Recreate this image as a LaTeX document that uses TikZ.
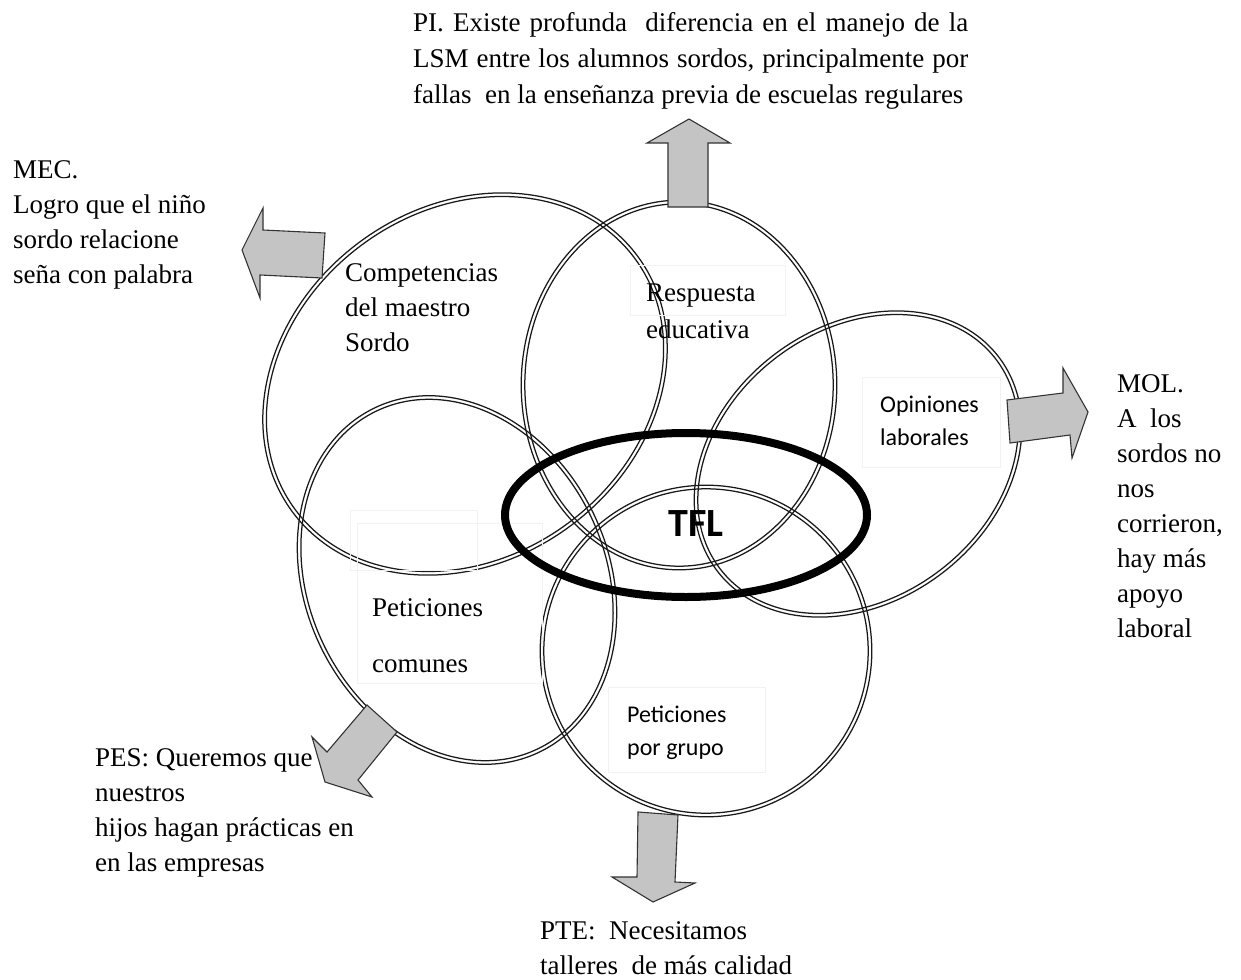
\documentclass[tikz,border=0pt]{standalone}
\usepackage{fontspec}
\setmainfont{Liberation Serif}
\newfontfamily\labelsans{Carlito}
\begin{document}
\begin{tikzpicture}[x=1pt,y=-1pt,
  ringline/.style={draw=black!90, line width=1.25pt},
  pics/ring/.style n args={2}{code={
    \draw[ringline] (0,0) ellipse [x radius=#1+1.8pt, y radius=#2+1.8pt];
    \draw[ringline] (0,0) ellipse [x radius=#1-1.8pt, y radius=#2-1.8pt];}},
  blockarrow/.style={draw=black!80, line width=1.1pt, fill=black!23, line join=miter},
  faintbox/.style={draw=black!5, line width=0.7pt},
  serif/.style={font=\fontsize{27}{35}\selectfont, align=left, anchor=north west, inner sep=0pt},
  sans/.style={font=\labelsans\fontsize{24}{33}\selectfont, align=left, anchor=north west, inner sep=0pt},
]
\useasboundingbox (0,0) rectangle (1241,979);

% overlapping double-line ellipses
\pic (comp) [rotate=36.5] at (465,384) {ring={213pt}{175pt}};
\pic (resp) at (679,385) {ring={156pt}{183pt}};
\pic (opin) [rotate=37] at (858,464) {ring={175pt}{136pt}};
\pic (pcom) [rotate=-64.6] at (457,580) {ring={189pt}{150pt}};
\pic (pgru) at (706,651) {ring={164pt}{164pt}};

% light text frames
\draw[faintbox] (630,265) rectangle (785,315);
\draw[faintbox] (862,377) rectangle (1000,467);
\draw[faintbox] (350,510) rectangle (477,570);
\draw[faintbox] (357,523) rectangle (542,683);
\draw[faintbox] (608,687) rectangle (765,772);

% central ellipse
\draw[line width=8pt] (686,515) ellipse [x radius=181pt, y radius=82pt];
\node[font=\labelsans\bfseries\fontsize{40}{40}\selectfont, inner sep=0pt] (tfl) at (696,524) {TFL};

% labels inside the ellipses
\node[serif] (tcomp) at (345,263) {Competencias\\del maestro\\Sordo};
\node[serif, font=\fontsize{27}{37}\selectfont] (tresp) at (646,284) {Respuesta\\educativa};
\node[sans] (topin) at (880,396) {Opiniones\\laborales};
\node[serif] (tpcom) at (372,598) {Peticiones\\[21pt]comunes};
\node[sans] (tpgru) at (627,706) {Peticiones\\por grupo};

% outward block arrows
\draw[blockarrow] (668,207) -- (668,143) -- (647,143) -- (689,119) -- (730,143) -- (708,143) -- (708,207) -- cycle;
\draw[blockarrow] (325,233) -- (263,230) -- (263,208) -- (242,250) -- (260,298) -- (260,275) -- (322,278) -- cycle;
\draw[blockarrow] (1007,400) -- (1063,393) -- (1063,368) -- (1088,412) -- (1072,458) -- (1070,435) -- (1010,443) -- cycle;
\draw[blockarrow] (367,705) -- (327,752) -- (312,737) -- (325,782) -- (372,797) -- (358,780) -- (397,732) -- cycle;
\draw[blockarrow] (638,812) -- (637,877) -- (612,877) -- (653,902) -- (695,883) -- (675,882) -- (678,815) -- cycle;

% outer statements
\node[serif, font=\fontsize{27}{36}\selectfont] (pi) at (413,12)
  {\makebox[555pt][s]{PI. Existe profunda \ diferencia en el manejo de la}\\
   \makebox[555pt][s]{LSM entre los alumnos sordos, principalmente por}\\
   fallas \ en la enseñanza previa de escuelas regulares};
\node[serif] (mec) at (13,160) {MEC.\\Logro que el niño\\sordo relacione\\seña con palabra};
\node[serif] (mol) at (1117,374) {MOL.\\A \ los\\sordos no\\nos\\corrieron,\\hay más\\apoyo\\laboral};
\node[serif] (pes) at (95,748) {PES: Queremos que\\nuestros\\hijos hagan prácticas en\\en las empresas};
\node[serif] (pte) at (540,921) {PTE: \ Necesitamos\\talleres \ de más calidad};
\end{tikzpicture}
\end{document}
